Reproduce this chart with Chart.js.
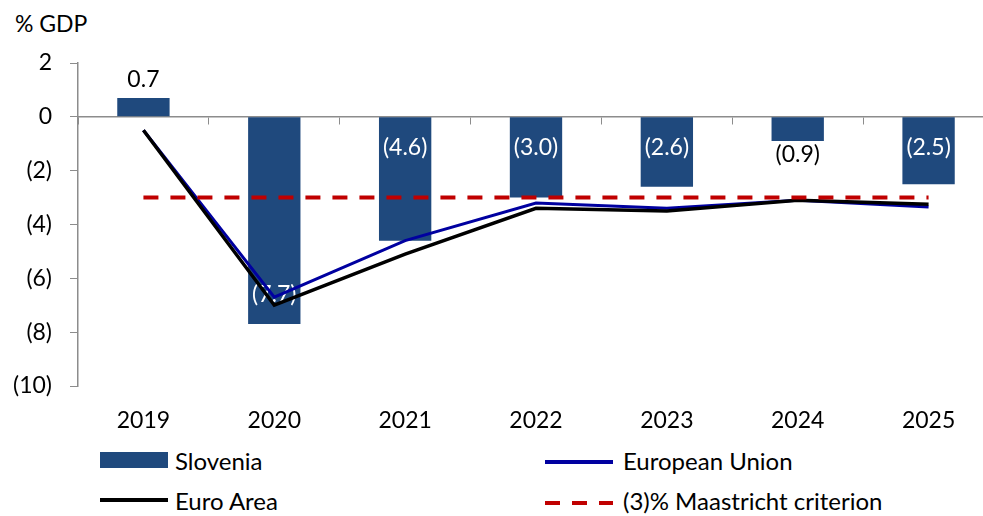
<!DOCTYPE html>
<html>
<head>
<meta charset="utf-8">
<script src="https://cdn.jsdelivr.net/npm/chart.js@4.4.1/dist/chart.umd.min.js"></script>
<style>
	body { margin: 0; overflow: hidden; background: #fff; font-family: Lato, sans-serif; }
	#wrap { position: absolute; left: 0; top: 0; width: 995px; height: 440px; }
	.unit { position: absolute; left: 15px; top: 9px; font-size: 23px; color: #000; }
	.leg { position: absolute; font-size: 24px; color: #000; line-height: 30px; }
	.sw { position: absolute; width: 68px; }
</style>
</head>
<body>
<div class="unit">% GDP</div>
<div id="wrap"><canvas id="chart"></canvas></div>

<div class="sw" style="left:100px;top:452px;height:16px;background:#1f497d"></div>
<div class="leg" style="left:175px;top:446px">Slovenia</div>
<div class="sw" style="left:545px;top:460px;height:4px;background:#0000a0"></div>
<div class="leg" style="left:623px;top:446px">European Union</div>
<div class="sw" style="left:100px;top:498px;height:4px;background:#000"></div>
<div class="leg" style="left:175px;top:486px">Euro Area</div>
<div class="sw" style="left:545px;top:501px;height:4px;background:repeating-linear-gradient(90deg,#c00000 0 15px,transparent 15px 27px)"></div>
<div class="leg" style="left:623px;top:486px">(3)% Maastricht criterion</div>

<script>
const years = ['2019', '2020', '2021', '2022', '2023', '2024', '2025']
const slovenia = [0.7, -7.7, -4.6, -3.0, -2.6, -0.9, -2.5]
const europeanUnion = [-0.5, -6.7, -4.6, -3.2, -3.4, -3.1, -3.35]
const euroArea = [-0.5, -7.0, -5.1, -3.4, -3.5, -3.1, -3.25]
const maastricht = [-3, -3, -3, -3, -3, -3, -3]

const axisGrey = '#8c8c8c'

//format negatives as (x)
const fmt = (v, digits) => {
	const s = digits ? Math.abs(v).toFixed(digits) : Math.abs(v)
	return v < 0 ? `(${s})` : `${s}`
}

//labels on the bars, drawn before the lines go on top
const barLabels = {
	id: 'barLabels',
	afterDatasetDraw(chart, args) {
		if (args.index !== 0) return
		const ctx = chart.ctx
		const ds = chart.data.datasets[0]
		ctx.save()
		ctx.font = '23px Lato'
		ctx.textAlign = 'center'
		ctx.textBaseline = 'middle'
		args.meta.data.forEach((el, i) => {
			const v = ds.data[i]
			const len = Math.abs(el.y - el.base)
			let y = el.y - 18
			let color = '#000'
			if (v < 0) {
				if (len < 30) {
					y = el.y + 14
				} else if (len > 150) {
					y = el.y - 30
					color = '#fff'
				} else {
					y = el.base + 30
					color = '#fff'
				}
			}
			ctx.fillStyle = color
			ctx.fillText(fmt(v, 1), el.x, y)
		})
		ctx.restore()
	},
}

const ctx = document.querySelector('#chart').getContext('2d')
new Chart(ctx, {
	data: {
		labels: years,
		datasets: [
			{
				type: 'bar',
				label: 'Slovenia',
				data: slovenia,
				backgroundColor: '#1f497d',
				barPercentage: 0.4,
				categoryPercentage: 1,
				order: 4,
			},
			{
				type: 'line',
				label: 'European Union',
				data: europeanUnion,
				borderColor: '#0000a0',
				borderWidth: 3,
				pointRadius: 0,
				tension: 0,
				order: 3,
			},
			{
				type: 'line',
				label: 'Euro Area',
				data: euroArea,
				borderColor: '#000',
				borderWidth: 3.5,
				pointRadius: 0,
				tension: 0,
				order: 2,
			},
			{
				type: 'line',
				label: '(3)% Maastricht criterion',
				data: maastricht,
				borderColor: '#c00000',
				borderWidth: 4,
				borderDash: [15, 12],
				pointRadius: 0,
				tension: 0,
				order: 1,
			},
		],
	},
	options: {
		responsive: true,
		maintainAspectRatio: false,
		animation: false,
		layout: { padding: { top: 63, right: 1, left: 0, bottom: 0 } },
		plugins: {
			legend: { display: false },
			tooltip: { enabled: false },
		},
		scales: {
			x: {
				type: 'category',
				position: { y: 0 },
				offset: true,
				border: { color: axisGrey, width: 1.5 },
				grid: { drawOnChartArea: false, drawTicks: true, tickLength: 7, color: axisGrey, offset: true },
				ticks: { display: false },
			},
			x2: {
				type: 'category',
				position: 'bottom',
				offset: true,
				border: { display: false },
				grid: { display: false, drawTicks: false },
				ticks: { color: '#000', font: { family: 'Lato', size: 23 }, padding: 21, maxRotation: 0 },
				afterFit: s => { s.height = 54 },
			},
			y: {
				min: -10,
				max: 2,
				border: { color: axisGrey, width: 1.5 },
				grid: { drawOnChartArea: false, drawTicks: true, tickLength: 8, color: axisGrey },
				ticks: {
					stepSize: 2,
					color: '#000',
					padding: 18,
					font: { family: 'Lato', size: 23 },
					callback: v => fmt(v),
				},
				afterFit: s => { s.width = 78 },
			},
		},
	},
	plugins: [barLabels],
})
</script>
</body>
</html>
